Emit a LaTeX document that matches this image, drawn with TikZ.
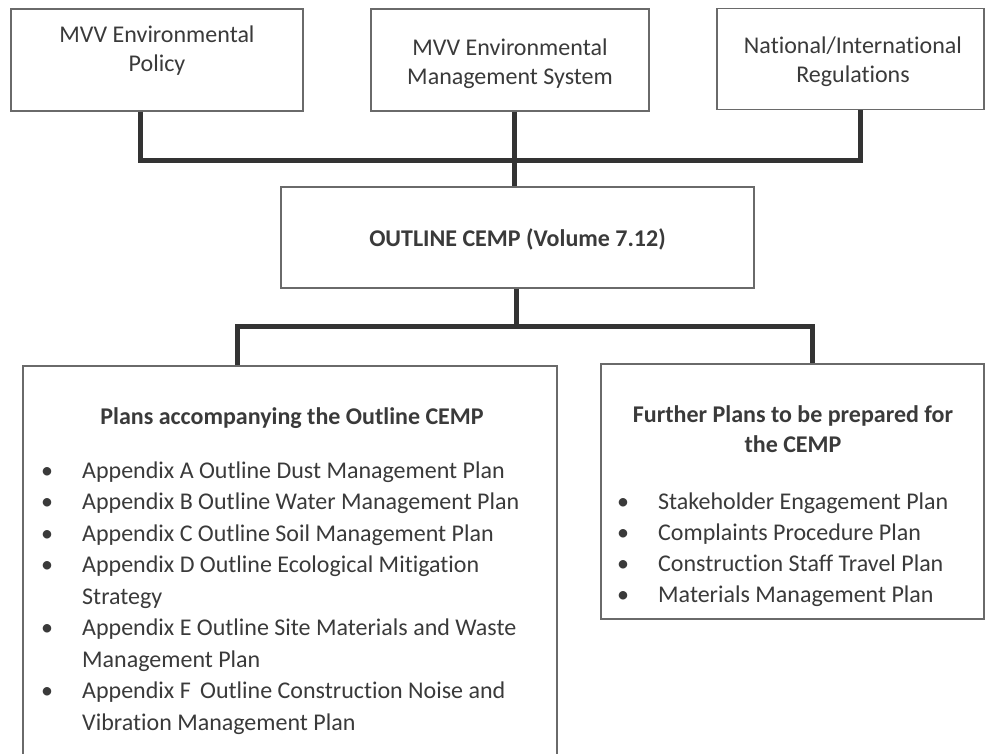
\documentclass[tikz,border=0pt]{standalone}
\usepackage{fontspec}
\setmainfont{Carlito}[Ligatures={NoCommon,NoRare,NoContextual}]
\definecolor{boxgray}{HTML}{6A6A6A}
\definecolor{lineblack}{HTML}{333333}
\definecolor{textgray}{HTML}{3A3A3A}
\begin{document}
\begin{tikzpicture}[x=1pt,y=-1pt,
  box/.style={draw=boxgray, line width=1.4pt, rectangle, inner sep=0pt, fill=white},
  conn/.style={draw=lineblack, line width=5pt, line join=miter},
  txt/.style={text=textgray, font=\fontsize{24}{29}\selectfont, inner sep=0pt, anchor=base},
  ttl/.style={text=textgray, font=\fontsize{24}{29}\selectfont\bfseries, inner sep=0pt, anchor=base},
  item/.style={text=textgray, font=\fontsize{24}{29}\selectfont, inner sep=0pt, anchor=base west},
  bul/.style={text=textgray, font=\fontsize{24}{29}\selectfont, inner sep=0pt, anchor=base west},
]
\useasboundingbox (0,0) rectangle (986,753);
\clip (0,0) rectangle (986,753);
\fill[white] (0,0) rectangle (986,753);

% boxes
\node[box, minimum width=292pt, minimum height=102pt] (p1) at (157,60) {};
\node[box, minimum width=278pt, minimum height=102pt] (p2) at (510,60) {};
\node[box, minimum width=267pt, minimum height=101pt] (p3) at (850.5,59) {};
\node[box, minimum width=473pt, minimum height=101pt] (cemp) at (517.5,237.5) {};
\node[box, minimum width=534pt, minimum height=414pt] (left) at (290,573) {};
\node[box, minimum width=383pt, minimum height=255pt] (right) at (792.5,491.5) {};

% connector coordinates
\coordinate (tbar) at (513,160);
\coordinate (stemx) at (514,0);
\coordinate (bbar) at (516,326);
\coordinate (lstem) at (237,326);
\coordinate (rstem) at (812,326);

% top connectors
\draw[conn] ([xshift=-17pt]p1.south) |- (tbar) -| ([xshift=9.5pt]p3.south);
\draw[conn] (p2.south -| stemx) -- (cemp.north -| stemx);
% bottom connectors
\draw[conn] (cemp.south -| bbar) -- (bbar);
\draw[conn] (left.north -| lstem) -- (lstem) -- (rstem) -- (right.north -| rstem);

% top texts
\node[txt] (t1a) at (157,42) {MVV Environmental};
\node[txt] (t1b) at (157,71) {Policy};
\node[txt] (t2a) at (510,55) {MVV Environmental};
\node[txt] (t2b) at (510,84) {Management System};
\node[txt] (t3a) at (853,53) {National/International};
\node[txt] (t3b) at (853,82) {Regulations};

% centre
\node[ttl] (ct) at (517.5,246) {OUTLINE CEMP (Volume 7.12)};

% left list
\node[ttl] (lt) at (292,424) {Plans accompanying the Outline CEMP};
\foreach \n/\yy/\tx/\b in {
  la/478/{Appendix A Outline Dust Management Plan}/1,
  lb/509.5/{Appendix B Outline Water Management Plan}/1,
  lc/541/{Appendix C Outline Soil Management Plan}/1,
  ld/572.5/{Appendix D Outline Ecological Mitigation}/1,
  ld2/604/{Strategy}/0,
  le/635.5/{Appendix E Outline Site Materials and Waste}/1,
  le2/667/{Management Plan}/0,
  lf/698.5/{Appendix F\, Outline Construction Noise and}/1,
  lf2/730/{Vibration Management Plan}/0}{
  \node[item] (\n) at (82,\yy) {\tx};
  \ifnum\b=1 \node[bul] (\n-b) at (41,\yy) {•};\fi
}

% right list
\node[ttl] (rt1) at (793,422) {Further Plans to be prepared for};
\node[ttl] (rt2) at (793,452) {the CEMP};
\foreach \n/\yy/\tx in {
  ra/509/{Stakeholder Engagement Plan},
  rb/540/{Complaints Procedure Plan},
  rc/571/{Construction Staff Travel Plan},
  rd/602/{Materials Management Plan}}{
  \node[item] (\n) at (658,\yy) {\tx};
  \node[bul] (\n-b) at (617,\yy) {•};
}
\end{tikzpicture}
\end{document}
